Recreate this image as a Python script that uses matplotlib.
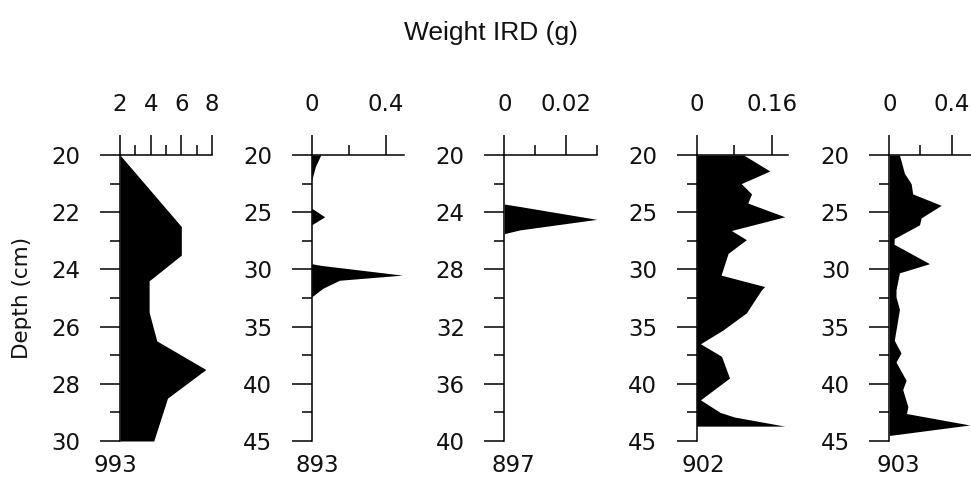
import matplotlib
matplotlib.use("Agg")
import matplotlib.pyplot as plt
from matplotlib.ticker import FuncFormatter

# core names, left to right
cores = ["993", "893", "897", "902", "903"]

# depth (cm) / IRD weight (g) per core
depth_993 = [20, 22.5, 23.5, 24.4, 25.5, 26.5, 27.5, 28.5, 30]
ird_993 = [2.0, 6.0, 6.0, 3.9, 3.9, 4.4, 7.6, 5.1, 4.2]

depth_893 = [20, 21, 22.2, 24.65, 25.4, 26.1, 29.5, 29.65, 30.5, 30.95, 31.65, 32.4, 45]
ird_893 = [0.049, 0.02, 0.0, 0.0, 0.07, 0.0, 0.0, 0.05, 0.49, 0.15, 0.06, 0.0, 0.0]

depth_897 = [20, 23.43, 23.6, 24.5, 25.24, 25.5, 40]
ird_897 = [0.0, 0.0, 0.005, 0.030, 0.005, 0.0, 0.0]

depth_902 = [20, 21.4, 22.5, 23.4, 24.2, 25.4, 26.6, 27.4, 28.6, 30.5, 31.5,
             31.8, 33.8, 35.3, 36.5, 37.6, 39.5, 41.4, 42.5, 42.9, 43.7]
ird_902 = [0.100, 0.156, 0.095, 0.117, 0.109, 0.188, 0.074, 0.106, 0.067, 0.052, 0.145,
           0.138, 0.106, 0.056, 0.008, 0.053, 0.070, 0.008, 0.050, 0.080, 0.188]

depth_903 = [20, 21.6, 22.5, 23.4, 24.4, 25.5, 26.1, 27.3, 27.8, 29.5, 30.3, 31.8,
             32.4, 33.5, 36.2, 37.3, 38.1, 39.7, 40.5, 42.0, 42.6, 43.6, 44.5]
ird_903 = [0.065, 0.097, 0.140, 0.150, 0.333, 0.204, 0.194, 0.032, 0.030, 0.258, 0.065, 0.043,
           0.043, 0.065, 0.032, 0.075, 0.043, 0.108, 0.086, 0.119, 0.110, 0.516, 0.010]

depths = [depth_993, depth_893, depth_897, depth_902, depth_903]
weights = [ird_993, ird_893, ird_897, ird_902, ird_903]

W, H = 971, 486
TOP, BOT = 155, 441

# left px, width px, xlim, x majors, x minors, y max, y major step, y minor step, label x px
panels = [
    (120.0, 92.0, (2, 8), [2, 4, 6, 8], [3, 5, 7], 30, 2, 1, 115),
    (311.7, 92.5, (0, 0.5), [0, 0.4], [0.2], 45, 5, 2.5, 317),
    (504.3, 92.4, (0, 0.03), [0, 0.02], [0.01, 0.03], 40, 4, 2, 513),
    (696.7, 91.4, (0, 0.195), [0, 0.16], [0.08], 45, 5, 2.5, 703),
    (889.3, 92.0, (0, 0.59), [0, 0.4], [0.2], 45, 5, 2.5, 898),
]

plt.rcParams['font.family'] = ['DejaVu Sans']
fig = plt.figure(figsize=(W / 100, H / 100), dpi=100)

fmt = FuncFormatter(lambda v, p: f"{v:g}")
for name, d, w, spec in zip(cores, depths, weights, panels):
    left, width, xlim, xmaj, xmin, ymax, ystep, ystep_minor, lab_x = spec
    ax = fig.add_axes([left / W, 1 - BOT / H, width / W, (BOT - TOP) / H])
    ax.fill_betweenx(d, xlim[0], w, color="black", linewidth=0)
    ax.set_xlim(*xlim)
    ax.set_ylim(ymax, 20)
    ax.xaxis.tick_top()
    ax.set_xticks(xmaj)
    ax.set_xticks(xmin, minor=True)
    ax.xaxis.set_major_formatter(fmt)
    yt = [20 + i * ystep for i in range(int((ymax - 20) / ystep) + 1)]
    ytm = [20 + i * ystep_minor for i in range(int((ymax - 20) / ystep_minor) + 1)]
    ax.set_yticks(yt)
    ax.set_yticks([v for v in ytm if v not in yt], minor=True)
    ax.yaxis.set_major_formatter(fmt)
    for s in ["right", "bottom"]:
        ax.spines[s].set_visible(False)
    for s in ["top", "left"]:
        ax.spines[s].set_linewidth(1.1)
    ax.tick_params(which="major", length=14.4, width=1.1, labelsize=16.5, labelcolor="#111111")
    ax.tick_params(which="minor", length=7.2, width=1.1)
    ax.tick_params(axis="x", which="major", pad=14)
    ax.tick_params(axis="y", which="major", pad=14)
    ax.patch.set_visible(False)
    fig.text(lab_x / W, 1 - 465 / H, name, ha="center", va="center", fontsize=16.5, color="#111111")

fig.text(491 / W, 1 - 33 / H, "Weight IRD (g)", ha="center", va="center",
         fontsize=19, family=["Liberation Sans", "DejaVu Sans"], color="#111111")
fig.text(22 / W, 1 - 298 / H, "Depth (cm)", ha="center", va="center",
         rotation=90, fontsize=15.5, color="#111111")

fig.savefig("out.png", dpi=100, facecolor="white")
